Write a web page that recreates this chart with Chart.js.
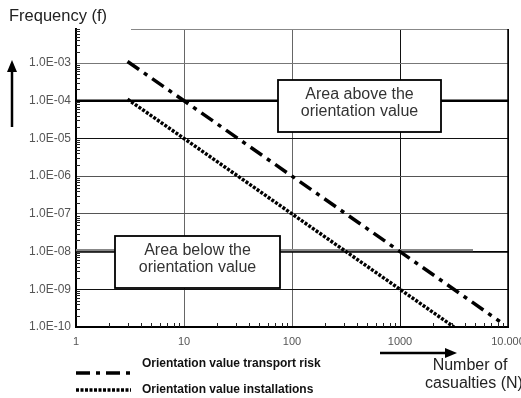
<!DOCTYPE html>
<html><head><meta charset="utf-8">
<script src="https://cdn.jsdelivr.net/npm/chart.js@4.4.0/dist/chart.umd.min.js"></script>
<style>html,body{margin:0;padding:0;background:#fff;overflow:hidden}#wrap{position:relative;width:521px;height:398px}</style>
</head><body><div id="wrap"><canvas id="c" width="521" height="398"></canvas></div>
<script>
const casualtiesTransport = [3, 10, 100, 1000, 8400];
const frequencyTransport = [1.1e-3, 1e-4, 1e-6, 1e-8, 1.4e-10];
const casualtiesInstallations = [3, 10, 100, 1000, 3160];
const frequencyInstallations = [1.1e-4, 1e-5, 1e-7, 1e-9, 1e-10];
const xTickValues = [1, 10, 100, 1000, 10000];
const xTickLabels = ['1', '10', '100', '1000', '10.000'];
const yTickValues = [1e-10, 1e-9, 1e-8, 1e-7, 1e-6, 1e-5, 1e-4, 1e-3];
const yTickLabels = ['1.0E-10', '1.0E-09', '1.0E-08', '1.0E-07', '1.0E-06', '1.0E-05', '1.0E-04', '1.0E-03'];
const orientationLevels = [1e-4, 1e-8];
const seriesLabels = ['Orientation value transport risk', 'Orientation value installations'];
const boxTexts = [['Area above the', 'orientation value'], ['Area below the', 'orientation value']];
const yAxisTitle = 'Frequency (f)';
const xAxisTitle = ['Number of', 'casualties (N)'];

const FONT = "'Liberation Sans', Arial, Helvetica, sans-serif";
const DASHDOT = [14, 6, 4, 6];
const DOTTED = [3, 1.5];

function toPts(xs, ys) { return xs.map((x, i) => ({ x: x, y: ys[i] })); }

const decor = {
  id: 'decor',
  beforeDatasetsDraw(chart) {
    const ctx = chart.ctx, a = chart.chartArea, xs = chart.scales.x, ys = chart.scales.y;
    ctx.save();
    ctx.strokeStyle = '#888'; ctx.lineWidth = 1.2;
    ctx.beginPath(); ctx.moveTo(131, a.top + 0.5); ctx.lineTo(a.right, a.top + 0.5); ctx.stroke();
    ctx.strokeStyle = '#000'; ctx.lineWidth = 1.5;
    ctx.beginPath(); ctx.moveTo(a.right, a.top); ctx.lineTo(a.right, a.bottom); ctx.stroke();
    ctx.strokeStyle = '#222'; ctx.lineWidth = 1;
    for (let d = 1; d < 10000; d *= 10) {
      for (let k = 2; k <= 9; k++) {
        const px = Math.round(xs.getPixelForValue(d * k)) + 0.5;
        ctx.beginPath(); ctx.moveTo(px, a.bottom); ctx.lineTo(px, a.bottom - 4); ctx.stroke();
      }
    }
    for (let d = 1e-10; d < 1e-2; d *= 10) {
      for (let k = 2; k <= 9; k++) {
        const v = d * k;
        if (v > ys.max) continue;
        const py = Math.round(ys.getPixelForValue(v)) + 0.5;
        ctx.beginPath(); ctx.moveTo(a.left, py); ctx.lineTo(a.left + 4, py); ctx.stroke();
      }
    }
    const y1 = ys.getPixelForValue(orientationLevels[0]);
    ctx.strokeStyle = '#000'; ctx.lineWidth = 2.5;
    ctx.beginPath(); ctx.moveTo(a.left, y1); ctx.lineTo(a.right + 1, y1); ctx.stroke();
    const y2 = ys.getPixelForValue(orientationLevels[1]);
    ctx.strokeStyle = '#888'; ctx.lineWidth = 3;
    ctx.beginPath(); ctx.moveTo(a.left, y2 - 1); ctx.lineTo(473, y2 - 1); ctx.stroke();
    ctx.strokeStyle = '#000'; ctx.lineWidth = 1.5;
    ctx.beginPath(); ctx.moveTo(a.left, y2 + 0.5); ctx.lineTo(a.right, y2 + 0.5); ctx.stroke();
    ctx.restore();
  },
  afterDatasetsDraw(chart) {
    const ctx = chart.ctx;
    ctx.save();
    const boxes = [[278, 80, 163, 52], [115, 236, 165, 52]];
    boxes.forEach((b, i) => {
      ctx.fillStyle = '#fff'; ctx.fillRect(b[0], b[1], b[2], b[3]);
      ctx.strokeStyle = '#000'; ctx.lineWidth = 1.8;
      ctx.strokeRect(b[0], b[1], b[2], b[3]);
      ctx.fillStyle = '#333'; ctx.font = '16px ' + FONT;
      ctx.textAlign = 'center'; ctx.textBaseline = 'middle';
      ctx.fillText(boxTexts[i][0], b[0] + b[2] / 2, b[1] + 15);
      ctx.fillText(boxTexts[i][1], b[0] + b[2] / 2, b[1] + 32);
    });
    ctx.strokeStyle = '#000'; ctx.lineWidth = 3.5; ctx.lineCap = 'butt';
    ctx.setLineDash(DASHDOT);
    ctx.beginPath(); ctx.moveTo(76, 373); ctx.lineTo(131, 373); ctx.stroke();
    ctx.setLineDash(DOTTED);
    ctx.beginPath(); ctx.moveTo(76, 390); ctx.lineTo(131, 390); ctx.stroke();
    ctx.setLineDash([]);
    ctx.fillStyle = '#111'; ctx.font = 'bold 12px ' + FONT;
    ctx.textAlign = 'left'; ctx.textBaseline = 'middle';
    ctx.fillText(seriesLabels[0], 142, 364);
    ctx.fillText(seriesLabels[1], 142, 390);
    ctx.fillStyle = '#222'; ctx.font = '16.5px ' + FONT;
    ctx.textAlign = 'left';
    ctx.fillText(yAxisTitle, 9, 16);
    ctx.strokeStyle = '#000'; ctx.lineWidth = 2.5;
    ctx.beginPath(); ctx.moveTo(12, 127); ctx.lineTo(12, 70); ctx.stroke();
    ctx.fillStyle = '#000';
    ctx.beginPath(); ctx.moveTo(12, 60); ctx.lineTo(7, 72); ctx.lineTo(17, 72); ctx.closePath(); ctx.fill();
    ctx.beginPath(); ctx.moveTo(380, 353); ctx.lineTo(447, 353); ctx.stroke();
    ctx.beginPath(); ctx.moveTo(457, 353); ctx.lineTo(445, 348); ctx.lineTo(445, 358); ctx.closePath(); ctx.fill();
    ctx.fillStyle = '#222'; ctx.font = '16px ' + FONT; ctx.textAlign = 'center';
    ctx.fillText(xAxisTitle[0], 470, 366);
    ctx.fillText(xAxisTitle[1], 474, 384);
    ctx.restore();
  }
};

const gridColorY = (c) => {
  const v = c.tick ? c.tick.value : 0;
  if (Math.abs(Math.log10(v) + 3) < 0.01) return '#777';
  if (Math.abs(Math.log10(v) + 6) < 0.01 || Math.abs(Math.log10(v) + 7) < 0.01) return '#555';
  return '#111';
};

new Chart(document.getElementById('c'), {
  type: 'line',
  data: {
    datasets: [
      { label: seriesLabels[0], data: toPts(casualtiesTransport, frequencyTransport),
        borderColor: '#000', borderWidth: 3.5, borderDash: DASHDOT, pointRadius: 0, tension: 0, fill: false },
      { label: seriesLabels[1], data: toPts(casualtiesInstallations, frequencyInstallations),
        borderColor: '#000', borderWidth: 3.5, borderDash: DOTTED, pointRadius: 0, tension: 0, fill: false }
    ]
  },
  options: {
    responsive: false, animation: false, devicePixelRatio: 1,
    layout: { padding: { top: 29, right: 13, left: 0, bottom: 0 } },
    plugins: { legend: { display: false }, tooltip: { enabled: false } },
    scales: {
      x: {
        type: 'logarithmic', min: 1, max: 10000, bounds: 'data', position: 'bottom',
        afterBuildTicks: (s) => { s.ticks = xTickValues.map(v => ({ value: v, major: true })); },
        afterFit: (s) => { s.height = 71; s.paddingLeft = 0; s.paddingRight = 0; },
        ticks: { autoSkip: false, maxRotation: 0, color: '#555', padding: 8,
          font: { family: FONT, size: 11 },
          callback: (v) => xTickLabels[xTickValues.indexOf(v)] },
        grid: { color: (c) => (c.tick && c.tick.value >= 1000 ? '#111' : '#666'), lineWidth: 1, drawTicks: false },
        border: { color: '#000', width: 2 }
      },
      y: {
        type: 'logarithmic', min: 1e-10, max: 8e-3, bounds: 'data',
        afterBuildTicks: (s) => { s.ticks = yTickValues.map(v => ({ value: v, major: true })); },
        afterFit: (s) => { s.width = 76; s.paddingTop = 0; s.paddingBottom = 0; },
        ticks: { autoSkip: false, color: '#555', padding: 5,
          font: { family: FONT, size: 12 },
          callback: (v) => { const i = yTickValues.findIndex(t => Math.abs(t - v) / t < 1e-6); return i >= 0 ? yTickLabels[i] : ''; } },
        grid: { color: gridColorY, lineWidth: 1, drawTicks: false },
        border: { color: '#000', width: 2 }
      }
    }
  },
  plugins: [decor]
});
</script></body></html>
